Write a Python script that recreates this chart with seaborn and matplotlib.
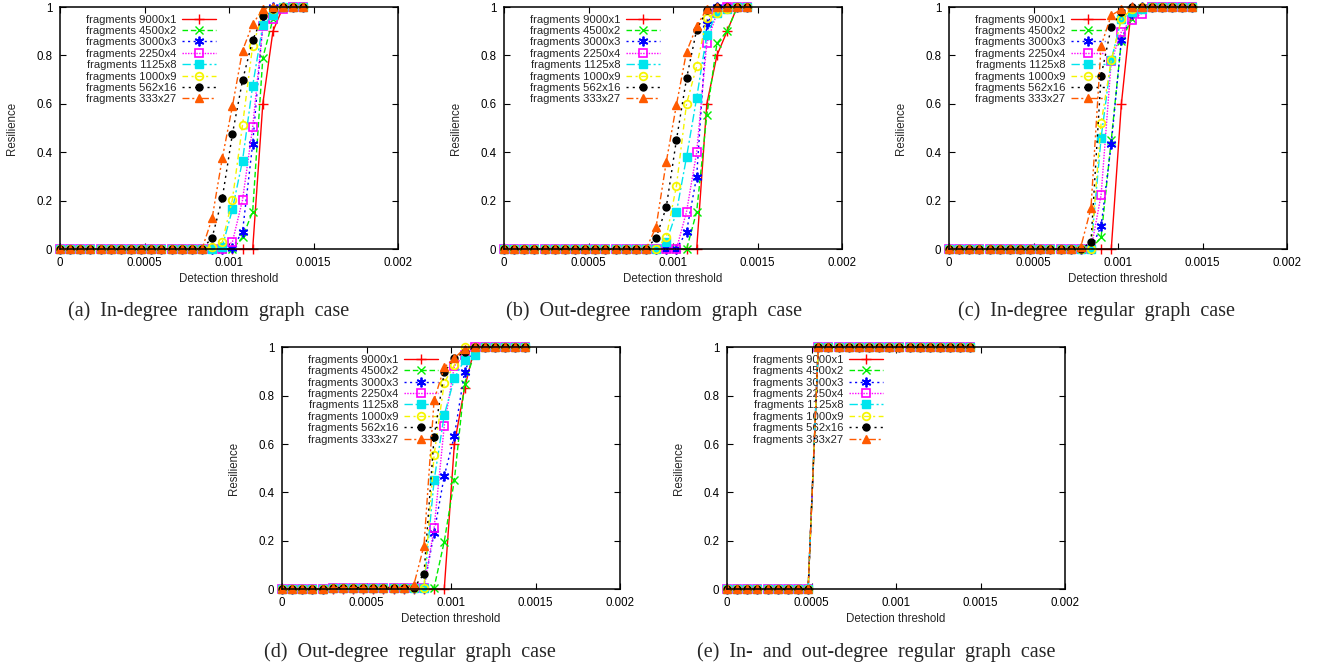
import matplotlib
matplotlib.use("Agg")
import matplotlib.pyplot as plt
import seaborn as sns
import numpy as np

# ---------------- data ----------------
THRESHOLDS = [0.0, 0.00006, 0.00012, 0.00018, 0.00024, 0.0003, 0.00036, 0.00042,
              0.00048, 0.00054, 0.0006, 0.00066, 0.00072, 0.00078, 0.00084, 0.0009,
              0.00096, 0.00102, 0.00108, 0.00114, 0.0012, 0.00126, 0.00132, 0.00138,
              0.00144]

SERIES = ["fragments 9000x1", "fragments 4500x2", "fragments 3000x3", "fragments 2250x4",
          "fragments 1125x8", "fragments 1000x9", "fragments 562x16", "fragments 333x27"]

# (a) In-degree random graph case
A_9000x1 = [0.0] * 20 + [0.60, 0.90, 1.0, 1.0, 1.0]
A_4500x2 = [0.0] * 18 + [0.05, 0.155, 0.79, 0.95, 1.0, 1.0, 1.0]
A_3000x3 = [0.0] * 17 + [0.005, 0.073, 0.434, 0.93, 1.0, 1.0, 1.0, 1.0]
A_2250x4 = [0.0] * 17 + [0.03, 0.203, 0.503, 0.92, 0.95, 0.99, 1.0, 1.0]
A_1125x8 = [0.0] * 16 + [0.01, 0.165, 0.366, 0.675, 0.925, 0.966, 1.0, 1.0, 1.0]
A_1000x9 = [0.0] * 15 + [0.01, 0.03, 0.205, 0.513, 0.84, 0.97, 0.99, 1.0, 1.0, 1.0]
A_562x16 = [0.0] * 15 + [0.048, 0.21, 0.475, 0.697, 0.863, 0.963, 0.99, 1.0, 1.0, 1.0]
A_333x27 = [0.0] * 15 + [0.128, 0.375, 0.59, 0.82, 0.93, 0.99, 1.0, 1.0, 1.0, 1.0]

# (b) Out-degree random graph case
B_9000x1 = [0.0] * 20 + [0.60, 0.80, 0.90, 1.0, 1.0]
B_4500x2 = [0.0] * 19 + [0.155, 0.553, 0.85, 0.90, 1.0, 1.0]
B_3000x3 = [0.0] * 18 + [0.073, 0.30, 0.93, 1.0, 1.0, 1.0, 1.0]
B_2250x4 = [0.0] * 18 + [0.155, 0.40, 0.85, 0.975, 1.0, 1.0, 1.0]
B_1125x8 = [0.0] * 16 + [0.03, 0.152, 0.38, 0.625, 0.886, 0.975, 0.99, 1.0, 1.0]
B_1000x9 = [0.0] * 16 + [0.05, 0.26, 0.60, 0.755, 0.956, 0.975, 0.99, 1.0, 1.0]
B_562x16 = [0.0] * 15 + [0.048, 0.173, 0.45, 0.705, 0.906, 0.986, 1.0, 1.0, 1.0, 1.0]
B_333x27 = [0.0] * 15 + [0.093, 0.36, 0.595, 0.815, 0.92, 0.993, 1.0, 1.0, 1.0, 1.0]

# (c) In-degree regular graph case
C_9000x1 = [0.0] * 17 + [0.60, 1.0, 1.0, 1.0, 1.0, 1.0, 1.0, 1.0]
C_4500x2 = [0.0] * 15 + [0.05, 0.45, 0.86, 0.95, 0.99, 1.0, 1.0, 1.0, 1.0, 1.0]
C_3000x3 = [0.0] * 15 + [0.096, 0.434, 0.865, 0.97, 1.0, 1.0, 1.0, 1.0, 1.0, 1.0]
C_2250x4 = [0.0] * 15 + [0.224, 0.776, 0.897, 0.948, 0.973, 1.0, 1.0, 1.0, 1.0, 1.0]
C_1125x8 = [0.0] * 15 + [0.46, 0.78, 0.95, 0.98, 0.99, 1.0, 1.0, 1.0, 1.0, 1.0]
C_1000x9 = [0.0] * 15 + [0.52, 0.78, 0.95, 0.99, 1.0, 1.0, 1.0, 1.0, 1.0, 1.0]
C_562x16 = [0.0] * 14 + [0.03, 0.716, 0.917, 0.98, 1.0, 1.0, 1.0, 1.0, 1.0, 1.0, 1.0]
C_333x27 = [0.0] * 13 + [0.01, 0.17, 0.84, 0.966, 0.99, 1.0, 1.0, 1.0, 1.0, 1.0, 1.0, 1.0]

# (d) Out-degree regular graph case
D_9000x1 = [0.0] * 17 + [0.60, 0.83, 1.0, 1.0, 1.0, 1.0, 1.0, 1.0]
D_4500x2 = [0.0] * 5 + [0.007] * 11 + [0.197, 0.452, 0.85, 0.975, 1.0, 1.0, 1.0, 1.0, 1.0]
D_3000x3 = [0.0] * 5 + [0.007] * 10 + [0.234, 0.468, 0.634, 0.897, 1.0, 1.0, 1.0, 1.0, 1.0, 1.0]
D_2250x4 = [0.0] * 5 + [0.007] * 10 + [0.252, 0.675, 0.923, 0.968, 1.0, 1.0, 1.0, 1.0, 1.0, 1.0]
D_1125x8 = [0.0] * 5 + [0.007] * 10 + [0.45, 0.72, 0.872, 0.948, 0.97, 1.0, 1.0, 1.0, 1.0, 1.0]
D_1000x9 = [0.0] * 5 + [0.007] * 10 + [0.555, 0.854, 0.927, 1.0, 1.0, 1.0, 1.0, 1.0, 1.0, 1.0]
D_562x16 = [0.0] * 5 + [0.007] * 9 + [0.063, 0.63, 0.897, 0.955, 0.98, 1.0, 1.0, 1.0, 1.0, 1.0, 1.0]
D_333x27 = [0.0] * 5 + [0.007] * 8 + [0.018, 0.18, 0.782, 0.917, 0.955, 0.995, 1.0, 1.0, 1.0, 1.0, 1.0, 1.0]

# (e) In- and out-degree regular graph case
E_9000x1 = [0.0] * 9 + [1.0] * 16
E_4500x2 = [0.0] * 9 + [1.0] * 16
E_3000x3 = [0.0] * 9 + [1.0] * 16
E_2250x4 = [0.0] * 9 + [1.0] * 16
E_1125x8 = [0.0] * 9 + [1.0] * 16
E_1000x9 = [0.0] * 9 + [1.0] * 16
E_562x16 = [0.0] * 9 + [1.0] * 16
E_333x27 = [0.0] * 9 + [1.0] * 16

PANELS = [
    [A_9000x1, A_4500x2, A_3000x3, A_2250x4, A_1125x8, A_1000x9, A_562x16, A_333x27],
    [B_9000x1, B_4500x2, B_3000x3, B_2250x4, B_1125x8, B_1000x9, B_562x16, B_333x27],
    [C_9000x1, C_4500x2, C_3000x3, C_2250x4, C_1125x8, C_1000x9, C_562x16, C_333x27],
    [D_9000x1, D_4500x2, D_3000x3, D_2250x4, D_1125x8, D_1000x9, D_562x16, D_333x27],
    [E_9000x1, E_4500x2, E_3000x3, E_2250x4, E_1125x8, E_1000x9, E_562x16, E_333x27],
]
CAPTIONS = ["(a)  In-degree  random  graph  case",
            "(b)  Out-degree  random  graph  case",
            "(c)  In-degree  regular  graph  case",
            "(d)  Out-degree  regular  graph  case",
            "(e)  In-  and  out-degree  regular  graph  case"]
XTICKS = [0, 0.0005, 0.001, 0.0015, 0.002]
XTICKLABELS = ["0", "0.0005", "0.001", "0.0015", "0.002"]
YTICKS = [0, 0.2, 0.4, 0.6, 0.8, 1.0]
YTICKLABELS = ["0", "0.2", "0.4", "0.6", "0.8", "1"]

# ---------------- styles ----------------
STYLES = [
    dict(color="#ff0000", marker="+", ls="-", ms=7, mfc="#ff0000", mew=1.0),
    dict(color="#00ee00", marker="x", ls=(0, (4, 2)), ms=6, mfc="#00ee00", mew=1.0),
    dict(color="#0000ff", marker=(6, 2, 0), ls=(0, (1.5, 2.5)), ms=7, mfc="#0000ff", mew=1.3),
    dict(color="#ff00ff", marker="s", ls=(0, (1, 1)), ms=5.5, mfc="none", mew=1.2),
    dict(color="#00e5ee", marker="s", ls=(0, (6, 2, 1.5, 2)), ms=5.5, mfc="#00e5ee", mew=1.0),
    dict(color="#f5f500", marker="o", ls=(0, (4, 2.5, 1.5, 2.5)), ms=5.5, mfc="none", mew=1.3),
    dict(color="#000000", marker="o", ls=(0, (1.5, 3)), ms=5, mfc="#000000", mew=1.0),
    dict(color="#ff5a00", marker="^", ls=(0, (5, 2, 1.5, 2, 1.5, 2)), ms=6, mfc="#ff5a00", mew=1.0),
]

sns.set_theme(style="ticks")
plt.rcParams["font.family"] = ["Liberation Sans", "DejaVu Sans"]

W, H = 1317, 667
fig = plt.figure(figsize=(W / 100, H / 100), dpi=100)

# axes pixel boxes: left, top, right, bottom
BOXES = [(60, 7, 398, 249.3), (504, 7, 842, 249.3), (949, 7, 1287, 249.3),
         (282, 347.3, 620, 589.3), (727, 347.3, 1065, 589.3)]
CAPTION_X = [209, 654, 1096, 410, 876]
CAPTION_Y = [311, 311, 311, 652, 652]
FS = 8.3
LFS = 8.15

for p, (l, t, r, b) in enumerate(BOXES):
    ax = fig.add_axes([l / W, 1 - b / H, (r - l) / W, (b - t) / H])
    for i, (vals, name) in enumerate(zip(PANELS[p], SERIES)):
        st = STYLES[i]
        sns.lineplot(x=THRESHOLDS, y=vals, ax=ax, color=st["color"], marker=st["marker"],
                     linestyle=st["ls"], markersize=st["ms"], markerfacecolor=st["mfc"],
                     markeredgecolor=st["color"], markeredgewidth=st["mew"], linewidth=1.0,
                     label=name, clip_on=False, zorder=3 + i)
    ax.set_xlim(0, 0.002)
    ax.set_ylim(0, 1)
    ax.set_xticks(XTICKS)
    ax.set_xticklabels(XTICKLABELS)
    ax.set_yticks(YTICKS)
    ax.set_yticklabels(YTICKLABELS)
    ax.tick_params(direction="in", length=4, width=0.8, top=True, right=True,
                   labelsize=FS, pad=5.5, colors="black")
    for sp in ax.spines.values():
        sp.set_visible(True)
        sp.set_linewidth(1.1)
        sp.set_color("black")
        sp.set_zorder(20)
    ax.set_xlabel("")
    ax.set_ylabel("")
    fig.text((l + r) / 2 / W, 1 - (b + 29.5) / H, "Detection threshold", ha="center",
             va="center", fontsize=FS)
    fig.text((l - 48) / W, 1 - (t + b) / 2 / H, "Resilience", rotation=90, ha="center",
             va="center", fontsize=FS)
    fig.text(CAPTION_X[p] / W, 1 - CAPTION_Y[p] / H, CAPTIONS[p], ha="center", va="center",
             fontsize=14.5, family=["Liberation Serif", "DejaVu Serif"])
    ax.legend(loc="upper left", bbox_to_anchor=(26 / (r - l), 1 - 7.5 / (b - t)),
              frameon=False, markerfirst=False, handlelength=3.0, handletextpad=0.5,
              labelspacing=0.125, borderpad=0, borderaxespad=0, fontsize=LFS, numpoints=1)

fig.savefig("out.png", dpi=100)
